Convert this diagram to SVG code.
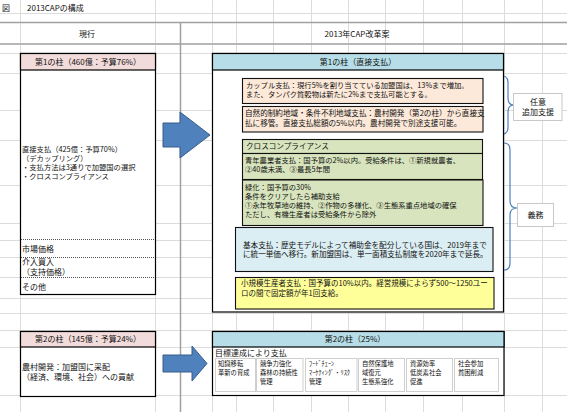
<svg xmlns="http://www.w3.org/2000/svg" width="567" height="412" viewBox="0 0 567 412">
<style>
.grid{stroke:#dcdcdc;stroke-width:1;fill:none}
.rule{stroke:#a0a0a0;stroke-width:1.5;fill:none}
.t{font-family:"Noto Sans CJK JP","Noto Sans CJK SC",sans-serif;fill:#111}
.s8{font-size:8px}
.s76{font-size:7.6px}
.s75{font-size:7.5px}
.s73{font-size:7.3px}
.s63{font-size:6.3px}
.c{text-anchor:middle}
.box{stroke:#000;stroke-width:1.2}
.in{stroke:#111;stroke-width:1.1}
.sub{fill:#fff;stroke:#cfcfcf;stroke-width:1}
.dot{stroke:#555;stroke-width:1;stroke-dasharray:1 1}
.brace{fill:none;stroke:#4f81bd;stroke-width:1.2}
.lab{fill:#fff;stroke:#c8c8c8;stroke-width:1}
.arrow{fill:#4f81bd;stroke:#385d8a;stroke-width:1}
</style>
<rect width="567" height="412" fill="#fff"/>
<g id="gridlines">
<path class="grid" d="M0 13.5H567M0 53.5H567M0 73.5H567M0 110.5H567M0 140.5H567M0 185.5H567M0 223.5H567M0 240.5H567M0 257.5H567M0 277.5H567M0 298.5H567M0 313.5H567M0 330.5H567M0 347.5H567M0 395.5H567"/>
<path class="grid" d="M20.5 0V412M155.5 0V412M212.5 0V412M236.5 0V412M273.5 0V412M311.5 0V412M348.5 0V412M385.5 0V412M423.5 0V412M462.5 0V412M504.5 0V412M542.5 0V412"/>
<path class="rule" d="M0 22.5H567M0 44H567M180.5 22V412"/>
</g>
<g id="title">
<text class="t s8" x="2" y="11">図</text>
<text class="t s8" x="27" y="11">2013CAPの構成</text>
<text class="t s8 c" x="87" y="37">現行</text>
<text class="t s8 c" x="357" y="37">2013年CAP改革案</text>
</g>
<g id="current-pillar1">
<rect class="box" x="20.5" y="53.5" width="135" height="241" fill="#fff"/>
<rect class="box" x="20.5" y="53.5" width="135" height="16.5" fill="#f2dcdb"/>
<text class="t s8 c" x="88" y="65">第1の柱（460億：予算76%）</text>
<text class="t s73" x="22" y="152">直接支払（425億：予算70%）</text>
<text class="t s73" x="22" y="161">（デカップリング）</text>
<text class="t s73" x="22" y="170">・支払方法は3通りで加盟国の選択</text>
<text class="t s73" x="22" y="179">・クロスコンプライアンス</text>
<path class="dot" d="M21 239.5H155M21 257.5H155M21 277.5H155"/>
<text class="t s8" x="22" y="252">市場価格</text>
<text class="t s8" x="22" y="265">介入買入</text>
<text class="t s8" x="22" y="275">（支持価格）</text>
<text class="t s8" x="22" y="290">その他</text>
</g>
<g id="current-pillar2">
<rect class="box" x="20.5" y="331.5" width="135" height="65" fill="#fff"/>
<rect class="box" x="20.5" y="331.5" width="135" height="15.5" fill="#f2dcdb"/>
<text class="t s8 c" x="88" y="342">第2の柱（145億：予算24%）</text>
<text class="t s8" x="22" y="370">農村開発：加盟国に采配</text>
<text class="t s8" x="22" y="380">（経済、環境、社会）への貢献</text>
</g>
<g id="connectors">
<polygon class="arrow" points="163,123 180,123 180,112 210,135 180,158 180,147 163,147"/>
<polygon class="arrow" points="163,355 192,355 192,346 207,363.5 192,381 192,372 163,372"/>
<path class="brace" d="M498 75Q508 75 508 82V98Q508 105 514 105Q508 105 508 112V128Q508 135 498 135"/>
<path class="brace" d="M504 143Q510 143 510 150V201Q510 208 517 208Q510 208 510 215V263Q510 270 504 270"/>
</g>
<g id="reform-pillar1">
<rect class="box" x="212.5" y="53.5" width="291" height="258.5" fill="#fff"/>
<rect class="box" x="212.5" y="53.5" width="291" height="16.5" fill="#b7dee8"/>
<text class="t s8 c" x="358" y="65">第1の柱（直接支払）</text>
</g>
<g id="couple">
<rect class="in" x="242.5" y="78.5" width="240.5" height="25" fill="#fde9d9"/>
<text class="t s73" x="246" y="88">カップル支払：現行5%を割り当てている加盟国は、13%まで増加。</text>
<text class="t s73" x="246" y="97">また、タンパク質穀物は新たに2%まで支払可能とする。</text>
</g>
<g id="lfa">
<rect class="in" x="242.5" y="106.5" width="240.5" height="25.5" fill="#fde9d9"/>
<text class="t s76" x="245" y="116">自然的制約地域・条件不利地域支払：農村開発（第2の柱）から直接支</text>
<text class="t s76" x="245" y="126">払に移管。直接支払総額の5%以内。農村開発で別途支援可能。</text>
</g>
<g id="cross-compliance">
<rect class="in" x="242.5" y="139.5" width="240" height="14" fill="#d7e4bd"/>
<text class="t s76" x="246" y="149">クロスコンプライアンス</text>
</g>
<g id="young-farmers">
<rect class="in" x="242.5" y="153.5" width="240" height="26" fill="#d7e4bd"/>
<text class="t s73" x="245" y="163">青年農業者支払：国予算の2%以内。受給条件は、①新規就農者、</text>
<text class="t s73" x="245" y="172">②40歳未満、③最長5年間</text>
</g>
<g id="greening">
<rect class="in" x="242.5" y="180" width="240.5" height="45.5" fill="#d7e4bd"/>
<text class="t s73" x="245" y="190">緑化：国予算の30%</text>
<text class="t s73" x="245" y="199">条件をクリアしたら補助支給</text>
<text class="t s73" x="245" y="208">①永年牧草地の維持、②作物の多様化、③生態系重点地域の確保</text>
<text class="t s73" x="245" y="217">ただし、有機生産者は受給条件から除外</text>
</g>
<g id="basic-payment">
<rect class="in" x="235.5" y="227.5" width="257.5" height="44" fill="#dbeef4"/>
<text class="t s76" x="243" y="247.5">基本支払：歴史モデルによって補助金を配分している国は、2019年まで</text>
<text class="t s76" x="243" y="257">に統一単価へ移行。新加盟国は、単一面積支払制度を2020年まで延長。</text>
</g>
<g id="small-farmers">
<rect class="in" x="235.5" y="277.5" width="258.5" height="31.5" fill="#ffff99"/>
<text class="t s75" x="241" y="286">小規模生産者支払：国予算の10%以内。経営規模によらず500～1250ユー</text>
<text class="t s75" x="241" y="296">ロの間で固定額が年1回支給。</text>
</g>
<g id="label-optional">
<rect class="lab" x="513.5" y="93.5" width="48.5" height="27"/>
<text class="t s8 c" x="538" y="105">任意</text>
<text class="t s8 c" x="538" y="115">追加支援</text>
</g>
<g id="label-mandatory">
<rect class="lab" x="517.5" y="203.5" width="36" height="23"/>
<text class="t s8 c" x="535.5" y="218">義務</text>
</g>
<g id="reform-pillar2">
<rect class="box" x="212.5" y="331.5" width="291.5" height="64" fill="#fff"/>
<rect class="box" x="212.5" y="331.5" width="291.5" height="15.5" fill="#b7dee8"/>
<text class="t s8 c" x="355" y="342">第2の柱（25%）</text>
<text class="t s8" x="215" y="356">目標達成により支払</text>
</g>
<g id="p2-knowledge">
<rect class="sub" x="215.5" y="358.5" width="40" height="33"/>
<text class="t s63" x="218" y="366">知識移転</text>
<text class="t s63" x="218" y="375">革新の育成</text>
</g>
<g id="p2-competitiveness">
<rect class="sub" x="256.5" y="358.5" width="46.5" height="33"/>
<text class="t s63" x="260" y="366">競争力強化</text>
<text class="t s63" x="260" y="375">森林の持続性</text>
<text class="t s63" x="260" y="384">管理</text>
</g>
<g id="p2-foodchain">
<rect class="sub" x="305.5" y="358.5" width="51.5" height="33"/>
<text class="t s63" x="309" y="366">ﾌｰﾄﾞﾁｪｰﾝ</text>
<text class="t s63" x="309" y="375">ﾏｰｹﾃｨﾝｸﾞ・ﾘｽｸ</text>
<text class="t s63" x="309" y="384">管理</text>
</g>
<g id="p2-nature">
<rect class="sub" x="358.5" y="358.5" width="46" height="33"/>
<text class="t s63" x="362" y="366">自然保護地</text>
<text class="t s63" x="362" y="375">域復元</text>
<text class="t s63" x="362" y="384">生態系強化</text>
</g>
<g id="p2-resource">
<rect class="sub" x="406.5" y="358.5" width="46" height="33"/>
<text class="t s63" x="410" y="366">資源効率</text>
<text class="t s63" x="410" y="375">低炭素社会</text>
<text class="t s63" x="410" y="384">促進</text>
</g>
<g id="p2-social">
<rect class="sub" x="454.5" y="358.5" width="44" height="33"/>
<text class="t s63" x="458" y="366">社会参加</text>
<text class="t s63" x="458" y="375">貧困削減</text>
</g>
</svg>
